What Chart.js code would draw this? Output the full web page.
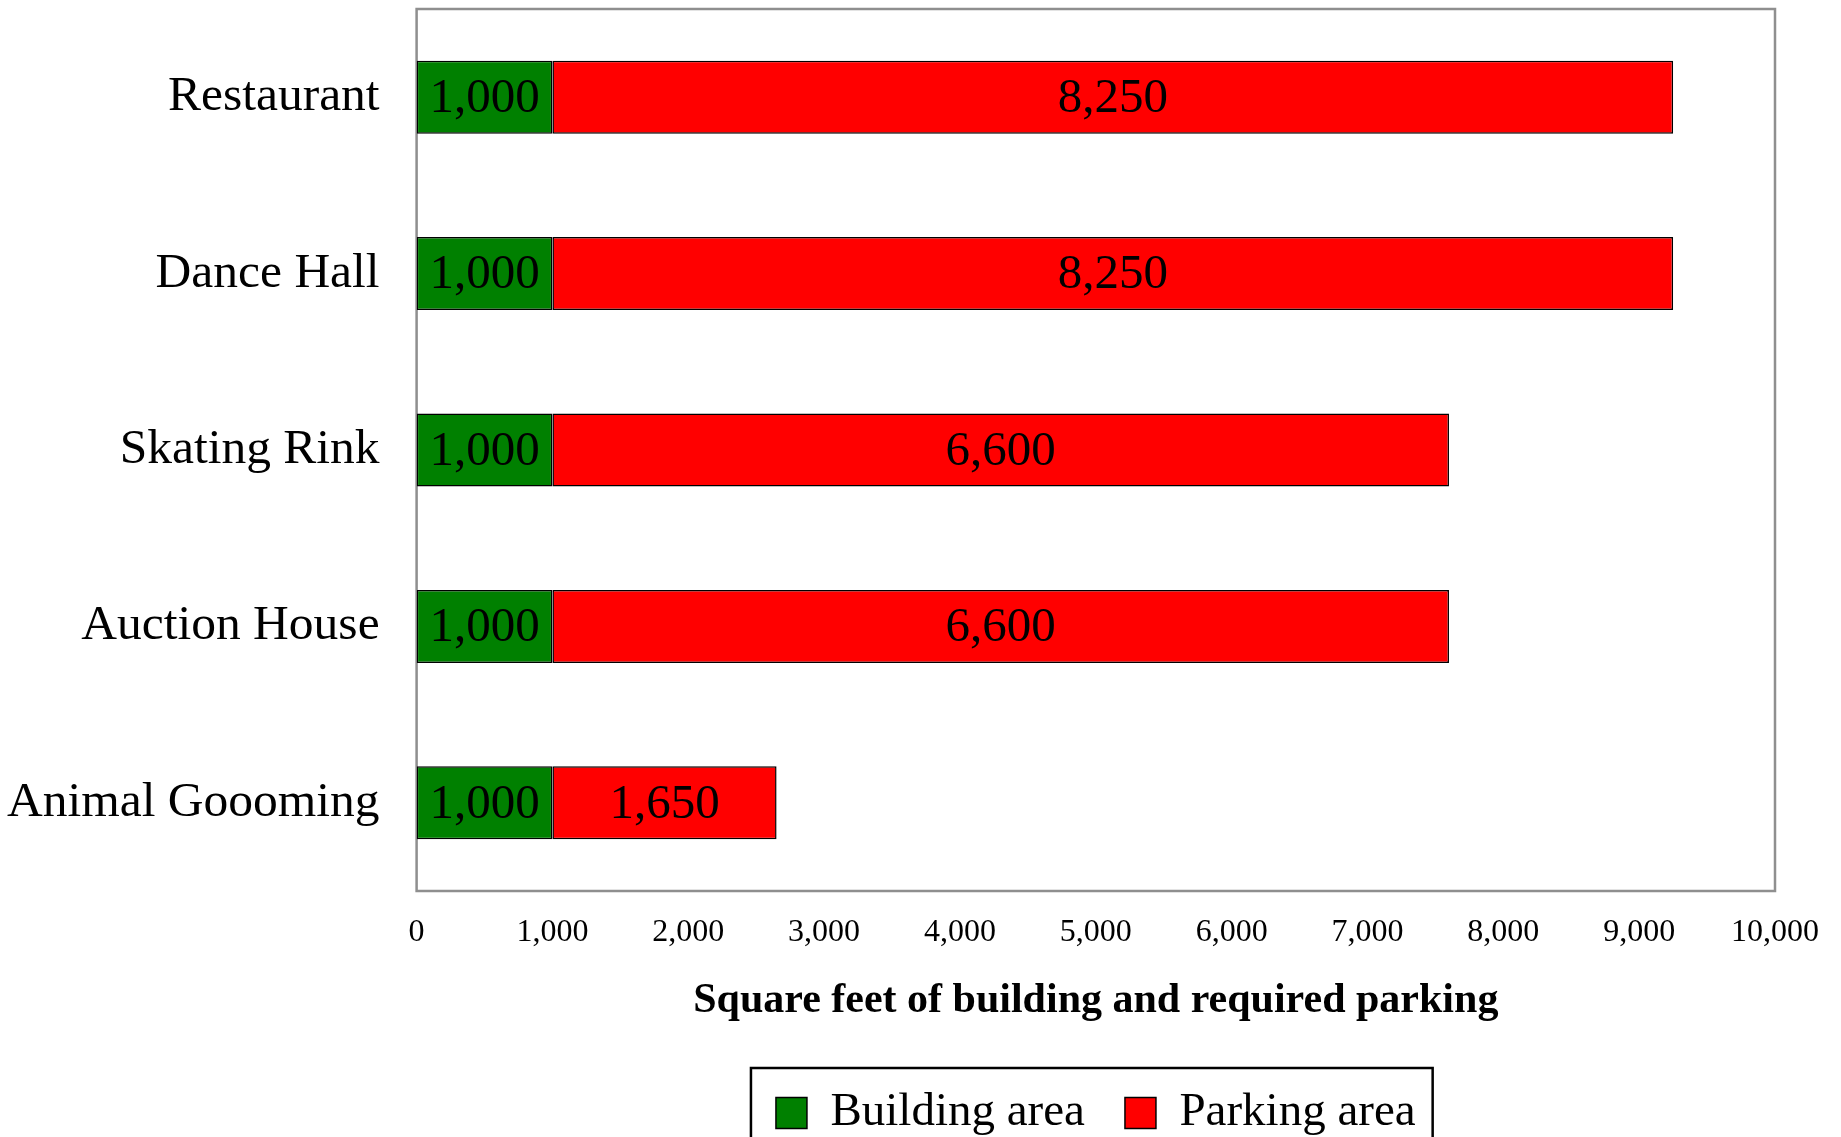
<!DOCTYPE html>
<html>
<head>
<meta charset="utf-8">
<script src="https://cdn.jsdelivr.net/npm/chart.js@4.4.1/dist/chart.umd.min.js"></script>
<style>
  html, body { margin: 0; padding: 0; background: #fff; }
  #wrap { width: 1841px; height: 1137px; position: relative; }
</style>
</head>
<body>
<div id="wrap"><canvas id="c"></canvas></div>
<script>
const categories = ['Restaurant', 'Dance Hall', 'Skating Rink', 'Auction House', 'Animal Goooming'];
const buildingArea = [1000, 1000, 1000, 1000, 1000];
const parkingArea = [8250, 8250, 6600, 6600, 1650];
const xTicks = [0, 1000, 2000, 3000, 4000, 5000, 6000, 7000, 8000, 9000, 10000];
const seriesNames = ['Building area', 'Parking area'];

const fmt = v => Number(v).toLocaleString('en-US');
const FONT = "'Liberation Serif', 'Times New Roman', serif";

const frameAndLabels = {
  id: 'frameAndLabels',
  beforeDatasetsDraw(chart) {
    const {ctx, chartArea: a} = chart;
    ctx.save();
    ctx.strokeStyle = '#8f8f8f';
    ctx.lineWidth = 2.5;
    ctx.strokeRect(a.left, a.top, a.right - a.left, a.bottom - a.top);
    ctx.restore();
  },
  afterDatasetsDraw(chart) {
    const {ctx} = chart;
    ctx.save();
    ctx.font = "49px " + FONT;
    ctx.fillStyle = '#000';
    ctx.textAlign = 'center';
    ctx.textBaseline = 'middle';
    chart.data.datasets.forEach((ds, di) => {
      const meta = chart.getDatasetMeta(di);
      meta.data.forEach((el, i) => {
        const p = el.getProps(['x', 'y', 'base'], true);
        ctx.fillText(fmt(ds.data[i]), (p.x + p.base) / 2, p.y + 2);
      });
    });
    ctx.restore();
  },
  afterDraw(chart) {
    const lg = chart.legend;
    if (!lg || !lg.legendHitBoxes || !lg.legendHitBoxes.length) return;
    const hb = lg.legendHitBoxes;
    const first = hb[0], last = hb[hb.length - 1];
    const left = first.left - 25;
    const right = last.left + last.width + 17;
    const top = first.top + first.height / 2 - 45;
    const {ctx} = chart;
    ctx.save();
    ctx.strokeStyle = '#000';
    ctx.lineWidth = 2.5;
    ctx.beginPath();
    ctx.moveTo(left, chart.height + 5);
    ctx.lineTo(left, top);
    ctx.lineTo(right, top);
    ctx.lineTo(right, chart.height + 5);
    ctx.stroke();
    ctx.restore();
  }
};

new Chart(document.getElementById('c'), {
  type: 'bar',
  data: {
    labels: categories,
    datasets: [
      { label: seriesNames[0], data: buildingArea, backgroundColor: '#008000', borderColor: '#000', borderWidth: 1.5, borderSkipped: false },
      { label: seriesNames[1], data: parkingArea, backgroundColor: '#ff0000', borderColor: '#000', borderWidth: 1.5, borderSkipped: false }
    ]
  },
  options: {
    indexAxis: 'y',
    responsive: true,
    maintainAspectRatio: false,
    animation: false,
    devicePixelRatio: 1,
    datasets: { bar: { categoryPercentage: 1, barPercentage: 0.414 } },
    layout: { padding: { left: 0, right: 58, top: 9, bottom: 0 } },
    font: { family: FONT },
    scales: {
      x: {
        stacked: true,
        min: 0, max: 10000,
        afterBuildTicks(scale) { scale.ticks = xTicks.map(v => ({ value: v })); },
        afterFit(scale) { scale.height = 158.5; },
        grid: { display: false, drawTicks: false },
        border: { display: false },
        ticks: { color: '#000', font: { family: FONT, size: 32 }, padding: 22, maxRotation: 0, autoSkip: false, callback: v => fmt(v) },
        title: { display: true, text: 'Square feet of building and required parking', color: '#000', font: { family: FONT, size: 42, weight: 'bold' }, padding: { top: 0, bottom: 23.5 } }
      },
      y: {
        stacked: true,
        afterFit(scale) { scale.width = 416.6; scale.paddingTop = 0; scale.paddingBottom = 0; },
        grid: { display: false, drawTicks: false },
        border: { display: false },
        ticks: { color: '#000', font: { family: FONT, size: 49.5 }, padding: 37 }
      }
    },
    plugins: {
      tooltip: { enabled: false },
      legend: {
        position: 'bottom',
        fullSize: false,
        maxHeight: 87.5,
        labels: { color: '#000', font: { family: FONT, size: 47 }, boxWidth: 31, boxHeight: 31, padding: 40 }
      }
    }
  },
  plugins: [frameAndLabels]
});
</script>
</body>
</html>
